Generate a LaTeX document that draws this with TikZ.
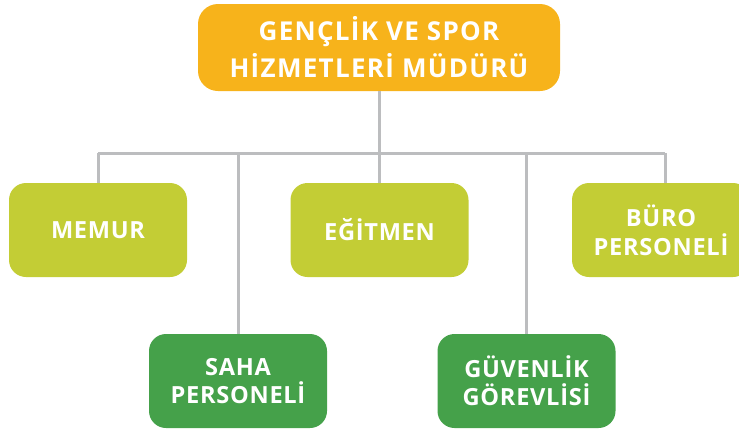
\documentclass[tikz,border=0pt]{standalone}
\usepackage{fontspec}
\setmainfont{Open Sans}
\newfontfamily\headfont[LetterSpace=5]{Open Sans}
\newfontfamily\boxfont[LetterSpace=3]{Open Sans}
\definecolor{orangebox}{HTML}{F7B31B}
\definecolor{limebox}{HTML}{C3CD35}
\definecolor{greenbox}{HTML}{45A14A}
\definecolor{linegray}{HTML}{BCBDBF}
\begin{document}
\begin{tikzpicture}[x=1pt,y=-1pt,
  conn/.style={draw=linegray,line width=3pt},
  basebox/.style={rectangle,rounded corners=17pt,inner sep=0pt,align=center,text=white},
  headbox/.style={basebox,fill=orangebox,minimum width=362pt,minimum height=87pt,rounded corners=20pt,font=\headfont\bfseries\fontsize{26}{37}\selectfont},
  limenode/.style={basebox,fill=limebox,minimum width=178pt,minimum height=94pt,font=\boxfont\bfseries\fontsize{23.6}{29}\selectfont},
  greennode/.style={basebox,fill=greenbox,minimum width=178pt,minimum height=94pt,font=\boxfont\bfseries\fontsize{23.6}{28}\selectfont}]
\useasboundingbox (0,0) rectangle (739,429);
\clip (0,0) rectangle (739,429);
\coordinate (barL) at (98,153);
\coordinate (barR) at (665,153);
\node[headbox] (head) at (379,47.5) {GENÇLİK VE SPOR\\HİZMETLERİ MÜDÜRÜ};
\node[limenode] (memur) at (98,230) {MEMUR};
\node[limenode] (egitmen) at (379.5,230) {EĞİTMEN};
\node[limenode] (buro) at (661,230) {BÜRO\\PERSONELİ};
\node[greennode] (saha) at (238,381) {SAHA\\PERSONELİ};
\node[greennode] (guven) at (526.5,381) {GÜVENLİK\\GÖREVLİSİ};
\draw[conn] (barL) -- (barR);
\draw[conn] (head.south) -- (head.south |- barL);
\draw[conn] (barL) -- (memur.north);
\draw[conn] (egitmen.north) -- (egitmen.north |- barL);
\draw[conn] (barR) -- (barR |- buro.north);
\draw[conn] (saha.north) -- (saha.north |- barL);
\draw[conn] (guven.north) -- (guven.north |- barL);
\end{tikzpicture}
\end{document}
